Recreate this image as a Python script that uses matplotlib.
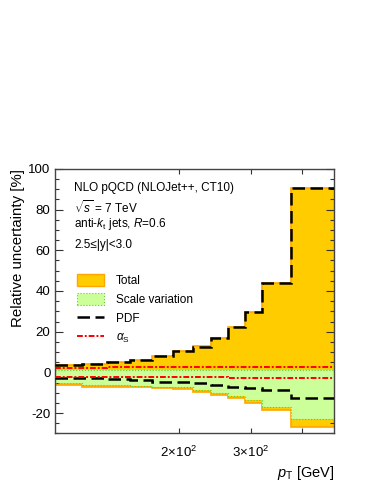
import numpy as np
import matplotlib
matplotlib.use("Agg")
import matplotlib.pyplot as plt
from matplotlib.patches import Patch
from matplotlib.lines import Line2D
from matplotlib.ticker import FixedLocator, MultipleLocator, NullFormatter, FixedFormatter

plt.rcParams['font.family'] = ['Liberation Sans', 'DejaVu Sans']
plt.rcParams['mathtext.fontset'] = 'custom'
plt.rcParams['mathtext.rm'] = 'Liberation Sans'
plt.rcParams['mathtext.it'] = 'Liberation Sans:italic'
plt.rcParams['mathtext.bf'] = 'Liberation Sans:bold'
plt.rcParams['axes.unicode_minus'] = False

# pT bin edges [GeV]
pt_edges = [100, 116, 134, 152, 172, 194, 216, 240, 264, 290, 318, 376, 478]

# relative uncertainties [%] per bin
total_up = [3.6, 4.2, 5.0, 6.0, 8.2, 10.5, 12.8, 17.0, 22.5, 29.7, 43.8, 90.5]
total_dn = [-6.2, -7.0, -7.2, -7.3, -7.8, -8.3, -9.5, -11.1, -12.7, -14.9, -18.5, -26.7]
scale_up = [1.0, 1.0, 1.0, 1.0, 1.0, 1.0, 1.0, 1.0, 1.0, 1.0, 1.0, 1.4]
scale_dn = [-5.4, -6.2, -6.4, -6.5, -7.0, -7.4, -8.5, -10.0, -11.5, -13.5, -17.2, -23.0]
pdf_up = [3.5, 4.1, 4.9, 5.9, 8.1, 10.4, 12.7, 16.9, 22.4, 29.6, 43.7, 90.4]
pdf_dn = [-2.6, -2.8, -3.2, -3.6, -4.5, -4.8, -5.0, -6.2, -7.0, -7.8, -8.6, -12.7]
as_up = [2.4, 2.4, 2.5, 2.5, 2.5, 2.6, 2.6, 2.7, 2.7, 2.8, 2.8, 2.8]
as_dn = [-2.3, -2.3, -2.4, -2.4, -2.4, -2.5, -2.5, -2.5, -2.6, -2.6, -2.6, -2.6]

yellow = '#ffcc00'
orange = '#ffa500'
green = '#ccff99'
gline = '#66cc33'

fig = plt.figure(figsize=(3.76, 4.87), dpi=100)
ax = fig.add_axes([0.147, 0.110, 0.742, 0.544])

ax.stairs(total_up, pt_edges, baseline=total_dn, fill=True, color=yellow, zorder=1)
ax.stairs(total_up, pt_edges, baseline=None, color=orange, lw=1.2, zorder=1.5)
ax.stairs(total_dn, pt_edges, baseline=None, color=orange, lw=1.2, zorder=1.5)
ax.stairs(scale_up, pt_edges, baseline=scale_dn, fill=True, color=green, zorder=2)
ax.stairs(scale_up, pt_edges, baseline=None, color=gline, lw=0.8, ls=':', zorder=2.5)
ax.stairs(scale_dn, pt_edges, baseline=None, color=gline, lw=0.8, ls=':', zorder=2.5)
for v in (pdf_up, pdf_dn):
    ax.stairs(v, pt_edges, baseline=None, color='black', lw=1.8,
              ls=(0, (5, 2.2)), zorder=3)
for v in (as_up, as_dn):
    ax.stairs(v, pt_edges, baseline=None, color='red', lw=1.4,
              ls=(0, (3, 1, 1, 1)), zorder=4)

ax.set_xscale('log')
ax.set_xlim(100, 478)
ax.set_ylim(-30, 100.2)

ax.xaxis.set_major_locator(FixedLocator([200, 300, 400]))
ax.xaxis.set_major_formatter(FixedFormatter([r'$2\!\times\!10^{2}$', r'$3\!\times\!10^{2}$', '']))
ax.xaxis.set_minor_locator(FixedLocator([]))
ax.xaxis.set_minor_formatter(NullFormatter())
ax.yaxis.set_major_locator(MultipleLocator(20))
ax.yaxis.set_minor_locator(MultipleLocator(5))

ax.tick_params(axis='both', which='both', direction='in', top=True, right=True,
               labelsize=9.5, color='#333333')
ax.tick_params(axis='y', which='major', length=6, width=0.8)
ax.tick_params(axis='y', which='minor', length=3, width=0.8)
ax.tick_params(axis='x', which='major', length=3.5, width=0.8, pad=8)
for s in ax.spines.values():
    s.set_color('#444444')
    s.set_linewidth(1.0)

ax.set_ylabel('Relative uncertainty [%]', fontsize=10.8, loc='top', labelpad=2)
ax.set_xlabel(r'$p_{\rm T}$ [GeV]', fontsize=10.5, loc='right', labelpad=3)

tx = 0.067
fs = 8.5
ax.text(tx, 0.927, 'NLO pQCD (NLOJet++, CT10)', transform=ax.transAxes,
        fontsize=fs, va='center')
ax.text(tx, 0.851, r'$\sqrt{s}$ = 7 TeV', transform=ax.transAxes,
        fontsize=fs, va='center')
ax.text(tx, 0.791, r'anti-$k_{\rm t}$ jets, $R$=0.6', transform=ax.transAxes,
        fontsize=fs, va='center')
ax.text(tx, 0.711, '2.5≤|y|<3.0', transform=ax.transAxes,
        fontsize=fs, va='center')

handles = [
    Patch(facecolor=yellow, edgecolor=orange, lw=1.0),
    Patch(facecolor=green, edgecolor=gline, lw=0.8, ls=':'),
    Line2D([], [], color='black', lw=1.8, ls=(0, (5, 2.2))),
    Line2D([], [], color='red', lw=1.4, ls=(0, (3, 1, 1, 1))),
]
labels = ['Total', 'Scale variation', 'PDF', r'$\alpha_{\rm S}$']
ax.legend(handles, labels, loc='upper left', bbox_to_anchor=(0.06, 0.62),
          frameon=False, fontsize=fs, handlelength=2.3, handleheight=1.2,
          handletextpad=1.0, labelspacing=0.5, borderaxespad=0)

fig.savefig('out.png', dpi=100)
